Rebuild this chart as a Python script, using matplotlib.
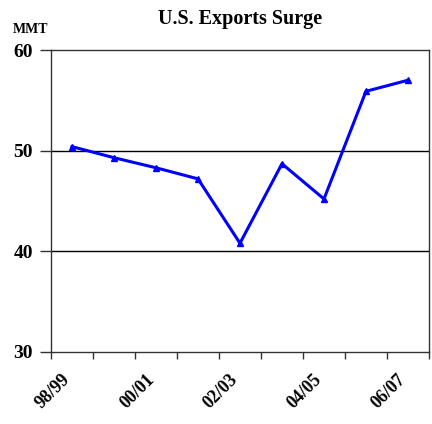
import matplotlib.pyplot as plt
import numpy as np

# data
years = ['98/99', '99/00', '00/01', '01/02', '02/03', '03/04', '04/05', '05/06', '06/07']
exports = [50.4, 49.3, 48.3, 47.2, 40.8, 48.7, 45.2, 55.9, 57.0]
yticks = [30, 40, 50, 60]

plt.rcParams['font.family'] = ['Liberation Serif', 'DejaVu Serif']

fig = plt.figure(figsize=(4.32, 4.24), dpi=100)
ax = fig.add_axes([0.118, 0.170, 0.875, 0.712])

x = np.arange(len(years)) + 0.5
ax.plot(x, exports, color='#0000FF', lw=2.2, marker='^', markersize=4.5, zorder=3)

ax.set_xlim(0, len(years))
ax.set_ylim(30, 60)
ax.set_yticks(yticks)
ax.set_yticklabels([str(v) for v in yticks], fontsize=14, fontweight='bold')
for v in [40, 50]:
    ax.axhline(v, color='black', lw=1, zorder=1)

ax.set_xticks(np.arange(len(years) + 1))
ax.set_xticklabels([])
for i in range(0, len(years), 2):
    ax.text(i + 0.25, 28.1, years[i], rotation=45, ha='right', va='top',
            fontsize=13, fontweight='bold', rotation_mode='anchor')

for s in ax.spines.values():
    s.set_color('#333333')
    s.set_linewidth(1)
ax.tick_params(axis='y', length=8, width=1, color='#333333', pad=5)
ax.tick_params(axis='x', length=5, width=1, color='#333333')

fig.text(0.555, 0.955, 'U.S. Exports Surge', ha='center', va='center',
         fontsize=14.5, fontweight='bold')
fig.text(0.03, 0.931, 'MMT', ha='left', va='center', fontsize=10, fontweight='bold')

fig.savefig('out.png', dpi=100)
